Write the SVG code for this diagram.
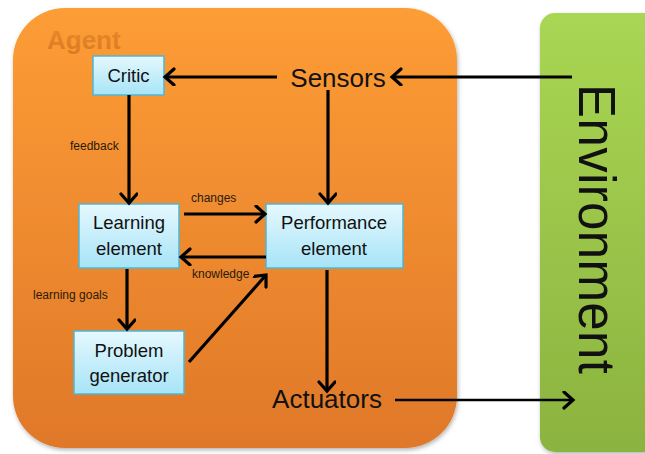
<svg xmlns="http://www.w3.org/2000/svg" width="645" height="454" viewBox="0 0 645 454">
  <defs>
    <linearGradient id="agentFill" x1="0" y1="0" x2="0" y2="1">
      <stop offset="0" stop-color="#FD9D35"/>
      <stop offset="1" stop-color="#E07829"/>
    </linearGradient>
    <linearGradient id="envFill" x1="0" y1="0" x2="0" y2="1">
      <stop offset="0" stop-color="#A9D653"/>
      <stop offset="1" stop-color="#8BB33F"/>
    </linearGradient>
    <linearGradient id="boxFill" x1="0" y1="0" x2="0" y2="1">
      <stop offset="0" stop-color="#E6F8FE"/>
      <stop offset="1" stop-color="#A6E4F7"/>
    </linearGradient>
    <linearGradient id="labelFill" x1="0" y1="0" x2="0" y2="1">
      <stop offset="0" stop-color="#E88A2C"/>
      <stop offset="1" stop-color="#D97A22"/>
    </linearGradient>
    <filter id="shadow" x="-5%" y="-5%" width="112%" height="112%">
      <feDropShadow dx="1" dy="2" stdDeviation="2" flood-color="#000" flood-opacity="0.3"/>
    </filter>
    <marker id="arrow" markerUnits="userSpaceOnUse" markerWidth="16" markerHeight="20" refX="11" refY="9" orient="auto">
      <path d="M2,1 L11,9 L2,17" fill="none" stroke="#000" stroke-width="3.2" stroke-linecap="round" stroke-linejoin="miter"/>
    </marker>
  </defs>
  <style>
    .box { fill: url(#boxFill); stroke: #4DB7D6; stroke-width: 1.5; }
    .boxText { font-family: "Liberation Sans", Arial, sans-serif; font-size: 18.5px; fill: #111; text-anchor: middle; }
    .big { font-family: "Liberation Sans", Arial, sans-serif; font-size: 26px; fill: #111; text-anchor: middle; }
    .small { font-family: "Liberation Sans", Arial, sans-serif; font-size: 12px; fill: #2a1a0a; }
    .conn { stroke: #000; stroke-width: 3.2; fill: none; marker-end: url(#arrow); }
  </style>

  <!-- Environment panel -->
  <g id="environment">
    <rect x="540" y="13" width="130" height="439" rx="15" ry="15" fill="url(#envFill)" filter="url(#shadow)"/>
    <text transform="translate(579,84) rotate(90)" font-family="Liberation Sans, Arial, sans-serif" font-size="51" fill="#111" textLength="290" lengthAdjust="spacing">Environment</text>
  </g>

  <!-- Agent container -->
  <g id="agent">
    <rect x="13" y="8" width="444" height="440" rx="52" ry="52" fill="url(#agentFill)" filter="url(#shadow)"/>
    <text x="47" y="49" font-family="Liberation Sans, Arial, sans-serif" font-weight="bold" font-size="26" fill="url(#labelFill)">Agent</text>
  </g>

  <g id="sensors">
    <text class="big" x="338" y="87">Sensors</text>
  </g>
  <g id="actuators">
    <text class="big" x="327" y="408">Actuators</text>
  </g>

  <g id="critic">
    <rect class="box" x="93" y="56" width="71" height="39"/>
    <text class="boxText" x="128.5" y="82">Critic</text>
  </g>

  <g id="learning-element">
    <rect class="box" x="79" y="204" width="100" height="64"/>
    <text class="boxText" x="129" y="229">Learning</text>
    <text class="boxText" x="129" y="255">element</text>
  </g>

  <g id="performance-element">
    <rect class="box" x="266" y="204" width="137" height="64"/>
    <text class="boxText" x="334" y="229">Performance</text>
    <text class="boxText" x="334" y="255">element</text>
  </g>

  <g id="problem-generator">
    <rect class="box" x="74" y="331" width="110" height="63"/>
    <text class="boxText" x="129" y="357">Problem</text>
    <text class="boxText" x="129" y="382">generator</text>
  </g>

  <!-- Connectors -->
  <g id="connectors">
    <line class="conn" x1="572" y1="77" x2="392" y2="77"/>
    <line class="conn" x1="277" y1="77" x2="165" y2="77"/>
    <line class="conn" x1="328" y1="90" x2="328" y2="203"/>
    <line class="conn" x1="129" y1="95" x2="129" y2="203"/>
    <line class="conn" x1="184" y1="214" x2="265" y2="214"/>
    <line class="conn" x1="266" y1="257" x2="181" y2="257"/>
    <line class="conn" x1="127" y1="269" x2="127" y2="329"/>
    <line class="conn" x1="189" y1="362" x2="266" y2="275"/>
    <line class="conn" x1="327" y1="270" x2="327" y2="391"/>
    <line class="conn" x1="395" y1="400" x2="573" y2="400" style="stroke-width:2.6"/>
    <text class="small" x="70" y="150">feedback</text>
    <text class="small" x="191" y="202">changes</text>
    <text class="small" x="192" y="278">knowledge</text>
    <text class="small" x="33" y="299">learning goals</text>
  </g>
</svg>
